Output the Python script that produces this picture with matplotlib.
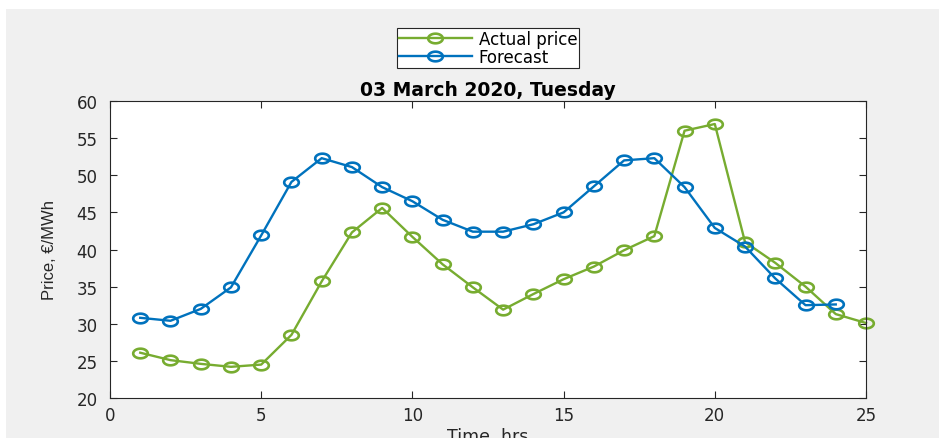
import numpy as np
import matplotlib
matplotlib.use("Agg")
import matplotlib.pyplot as plt
from matplotlib.path import Path
from matplotlib.patches import Rectangle

plt.rcParams['font.family'] = ['DejaVu Sans']

hours_actual = list(range(1, 26))
actual_price = [26.1, 25.1, 24.6, 24.2, 24.5, 28.5, 35.7, 42.3, 45.6, 41.7,
                38.0, 34.9, 31.9, 34.0, 36.0, 37.7, 39.9, 41.8, 56.0, 56.9,
                41.0, 38.2, 35.0, 31.3, 30.1]
hours_forecast = list(range(1, 25))
forecast = [30.8, 30.4, 32.0, 34.9, 41.9, 49.1, 52.3, 51.1, 48.4, 46.5,
            44.0, 42.4, 42.4, 43.4, 45.0, 48.5, 52.0, 52.3, 48.4, 42.9,
            40.4, 36.1, 32.5, 32.6]
xticks = [0, 5, 10, 15, 20, 25]
yticks = [20, 25, 30, 35, 40, 45, 50, 55, 60]

# slightly flattened circle marker
t = np.linspace(0, 2 * np.pi, 60)
ellipse = Path(np.column_stack([np.cos(t), 0.66 * np.sin(t)]), closed=True)

W, H = 939, 439
fig = plt.figure(figsize=(W / 100, H / 100), dpi=100, facecolor='white')
fig.patches.append(Rectangle((6 / W, 0), 1 - 6 / W, 1 - 10 / H,
                             transform=fig.transFigure, facecolor='#f0f0f0',
                             edgecolor='none', zorder=-10))

ax = fig.add_axes([110 / W, 1 - 399 / H, 756 / W, 297 / H])
ax.set_facecolor('white')

green = '#77AC30'
blue = '#0072BD'
style = dict(lw=1.7, marker=ellipse, markersize=10.5, markerfacecolor='none',
             markeredgewidth=1.9, clip_on=False)
ax.plot(hours_actual, actual_price, color=green, label='Actual price', **style)
ax.plot(hours_forecast, forecast, color=blue, label='Forecast', **style)

ax.set_xlim(0, 25)
ax.set_ylim(20, 60)
ax.set_xticks(xticks)
ax.set_yticks(yticks)
ax.tick_params(direction='in', length=5, width=0.8, colors='#262626',
               labelsize=12, top=True, right=True)
ax.tick_params(axis='x', pad=6)
ax.tick_params(axis='y', pad=9)
for s in ax.spines.values():
    s.set_color('#262626')
    s.set_linewidth(0.8)

ax.set_title('03 March 2020, Tuesday', fontsize=13.5, fontweight='bold',
             color='#000000', pad=4)
ax.set_ylabel('Price, €/MWh', fontsize=12, color='#262626', labelpad=14,
              family=['Liberation Sans', 'DejaVu Sans'])
ax.set_xlabel('Time, hrs', fontsize=12.5, color='#262626', labelpad=2)

leg = ax.legend(loc='lower center', bbox_to_anchor=(0.5, 1.111), fontsize=12,
                frameon=True, fancybox=False, edgecolor='#262626',
                handlelength=4.4, handletextpad=0.4, borderpad=0.12,
                labelspacing=0.0, borderaxespad=0)
leg.get_frame().set_linewidth(0.8)
leg.get_frame().set_facecolor('white')
leg.get_frame().set_alpha(1)

fig.savefig('out.png', dpi=100, facecolor=fig.get_facecolor())
